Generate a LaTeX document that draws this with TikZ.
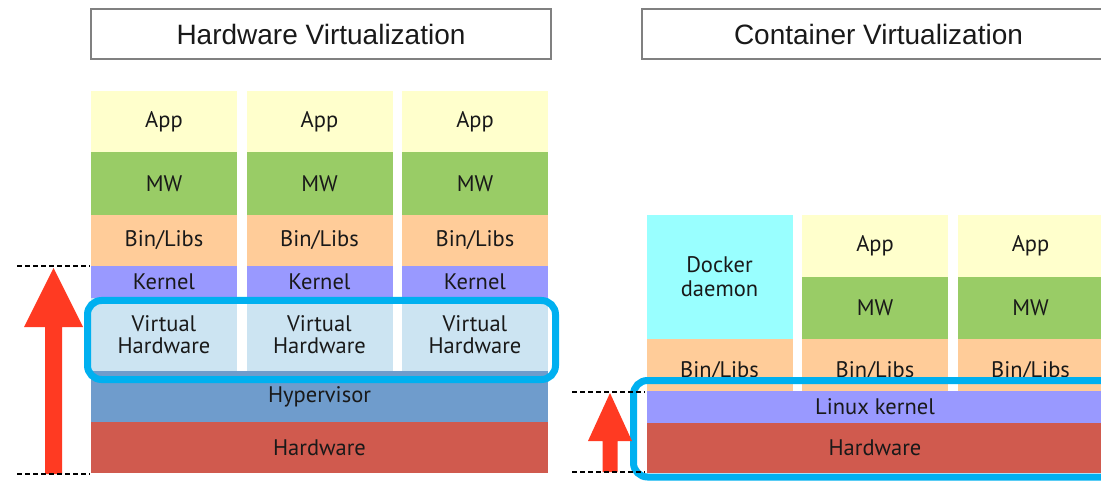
\documentclass[tikz,border=0pt]{standalone}
\usepackage{fontspec}
\setmainfont{PT Sans}
\newfontfamily\titlefont{Liberation Sans}
\usepackage{tikz}
\usetikzlibrary{calc}
\usetikzlibrary{positioning}
\definecolor{appc}{HTML}{FFFFCC}
\definecolor{mwc}{HTML}{99CC66}
\definecolor{libc}{HTML}{FFCC99}
\definecolor{kernc}{HTML}{9999FF}
\definecolor{vhwc}{HTML}{CCE4F2}
\definecolor{hypc}{HTML}{6F9CCC}
\definecolor{hwc}{HTML}{D05A4E}
\definecolor{dockc}{HTML}{99FFFF}
\definecolor{hilite}{HTML}{00B0F0}
\definecolor{arrowred}{HTML}{FF3A22}
\tikzset{layer/.style={minimum width=146pt, inner sep=0pt, outer sep=0pt, align=center, text=black!90, font=\fontsize{22.5}{22}\selectfont},
titlebox/.style={draw=black!50, line width=2pt, minimum height=50pt, inner sep=0pt, font=\titlefont\fontsize{28}{30}\selectfont, text=black!90},
hilitebox/.style={draw=hilite, line width=7pt, rounded corners=14pt},
level/.style={dash pattern=on 5pt off 3pt, line width=2.5pt}}
% big red up arrow: bottom, tip, shaft half width, head half width, head length
\newcommand\bigup[5]{\fill[arrowred] ($(#1)+(-#3,0)$) -- ($(#2)+(-#3,#5)$) -- ($(#2)+(-#4,#5)$) -- (#2) -- ($(#2)+(#4,#5)$) -- ($(#2)+(#3,#5)$) -- ($(#1)+(#3,0)$) -- cycle;}

\begin{document}
\begin{tikzpicture}[x=1pt, y=-1pt]
\useasboundingbox (0,0) rectangle (1101,481);
% hardware virtualization
\node (t0) at (321,34) [titlebox, minimum width=460pt] {Hardware Virtualization};
\foreach \x in {0, 1, 2} {
\node (app\x) at ($(164,121.5) + \x*(155.5,0)$) [layer, fill=appc, minimum height=61pt] {App};
\node (mw\x) at ($(164,183.5) + \x*(155.5,0)$) [layer, fill=mwc, minimum height=63pt] {MW};
\node (lib\x) at ($(164,240.5) + \x*(155.5,0)$) [layer, fill=libc, minimum height=51pt] {Bin/Libs};
\node (kern\x) at ($(164,282) + \x*(155.5,0)$) [layer, fill=kernc, minimum height=32pt] {Kernel};
\node (vhw\x) at ($(164,335) + \x*(155.5,0)$) [layer, fill=vhwc, minimum height=74pt] {Virtual\\ Hardware};
}
\node (hyp) at (319.5,396.5) [layer, fill=hypc, minimum width=457pt, minimum height=51pt] {Hypervisor};
\node (hw0) at (319.5,447.5) [layer, fill=hwc, minimum width=457pt, minimum height=51pt] {Hardware};
\draw [hilitebox] (87.5,300.5) rectangle (555.5,379.5);
\coordinate (hvtop) at (53.5,268);
\coordinate (hvbot) at (53.5,474);
\bigup{hvbot}{hvtop}{8.5}{29.5}{59}
\coordinate (l1a) at (17,266); \coordinate (l1b) at (90,266);
\coordinate (l2a) at (17,474); \coordinate (l2b) at (90,474);
\draw [level] (l1a) -- (l1b);
\draw [level] (l2a) -- (l2b);
% container virtualization
\node (t1) at (878.5,34) [titlebox, minimum width=473pt] {Container Virtualization};
\node (dock) at (719.5,277) [layer, fill=dockc, minimum height=124pt] {Docker\\[2pt] daemon};
\foreach \x in {1, 2} {
\node (capp\x) at ($(719.5,246) + \x*(155.5,0)$) [layer, fill=appc, minimum height=62pt] {App};
\node (cmw\x) at ($(719.5,308) + \x*(155.5,0)$) [layer, fill=mwc, minimum height=62pt] {MW};
}
\foreach \x in {0, 1, 2} {
\node (clib\x) at ($(719.5,365) + \x*(155.5,0)$) [layer, fill=libc, minimum height=52pt, text height=25pt, text depth=0pt] {Bin/Libs};
}
\node (lk) at (875,407) [layer, fill=kernc, minimum width=456pt, minimum height=32pt] {Linux kernel};
\node (hw1) at (875,448) [layer, fill=hwc, minimum width=456pt, minimum height=50pt] {Hardware};
\draw [hilitebox] (633.5,380.5) rectangle (1118,477);
\coordinate (cvtop) at (610,393);
\coordinate (cvbot) at (610,472);
\bigup{cvbot}{cvtop}{7.5}{22}{48}
\coordinate (l3a) at (572,392); \coordinate (l3b) at (645,392);
\coordinate (l4a) at (572,472); \coordinate (l4b) at (645,472);
\draw [level] (l3a) -- (l3b);
\draw [level] (l4a) -- (l4b);
\end{tikzpicture}
\end{document}
